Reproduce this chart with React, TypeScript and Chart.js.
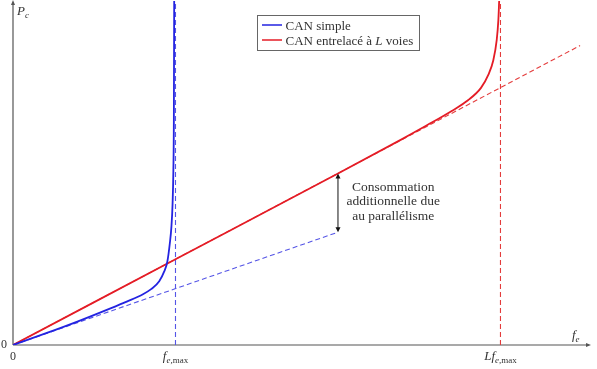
import React, { useEffect, useRef } from "react";
import { Chart, registerables } from "chart.js";
Chart.register(...registerables);

// ---- data (x in units of f_e,max, y in arbitrary power units) ----
const simpleX = [0, 0.2, 0.4, 0.6, 0.7, 0.8, 0.85, 0.9, 0.93, 0.95, 0.965, 0.975, 0.982, 0.987, 0.99, 0.992];
const simpleY = [0, 0.205, 0.42, 0.65, 0.77, 0.9, 0.99, 1.13, 1.3, 1.48, 1.8, 2.1, 2.5, 3.1, 4.0, 6.1];
const interX = [0, 1, 2, 2.4, 2.55, 2.7, 2.8, 2.88, 2.925, 2.956, 2.977, 2.987, 2.992];
const interY = [0, 1.52, 3.04, 3.66, 3.9, 4.15, 4.34, 4.56, 4.79, 5.05, 5.41, 5.76, 6.1];
const simpleLinX = [0, 2];
const simpleLinY = [0, 2];
const interLinX = [0, 3.49];
const interLinY = [0, 5.31];
const limitSimpleX = [1, 1];
const limitInterX = [3, 3];
const limitY = [0, 6.1];
const xTickValues = [0, 1, 3];
const xTickMain = ["0", "f", "Lf"];
const xTickSub = ["", "e,max", "e,max"];
const arrowX = 2;
const arrowFrom = 2;
const arrowTo = 3.04;
const noteLines = ["Consommation", "additionnelle due", "au parallélisme"];
const noteX = 2.34;
const noteY = 2.54;
const legendLabels = ["CAN simple", "CAN entrelacé à L voies"];

const X_MAX = 3.551;
const Y_MAX = 6.1;

const BLUE = "rgb(35,35,225)";
const RED = "rgb(228,28,38)";
const BLUE_D = "rgb(85,85,230)";
const RED_D = "rgb(228,60,60)";
const AXIS = "#555";
const TEXT = "#333";
const FONT = '"Liberation Serif", "Times New Roman", serif';

const pts = (xs: number[], ys: number[]) => xs.map((x, i) => ({ x, y: ys[i] }));

type Seg = { t: string; it?: boolean; sub?: boolean };

function segFont(s: Seg, size: number) {
  const sz = s.sub ? Math.round(size * 0.7) : size;
  return `${s.it ? "italic " : ""}${sz}px ${FONT}`;
}

function richWidth(ctx: CanvasRenderingContext2D, segs: Seg[], size: number) {
  let w = 0;
  for (const s of segs) {
    ctx.font = segFont(s, size);
    w += ctx.measureText(s.t).width;
  }
  return w;
}

function drawRich(ctx: CanvasRenderingContext2D, segs: Seg[], x: number, y: number, size: number, align: "left" | "center") {
  let cx = align === "center" ? x - richWidth(ctx, segs, size) / 2 : x;
  ctx.textAlign = "left";
  ctx.textBaseline = "alphabetic";
  for (const s of segs) {
    ctx.font = segFont(s, size);
    ctx.fillText(s.t, cx, y + (s.sub ? size * 0.25 : 0));
    cx += ctx.measureText(s.t).width;
  }
}

function subSegs(sub: string): Seg[] {
  if (!sub) return [];
  const [first, ...rest] = sub.split(",");
  const out: Seg[] = [{ t: first, it: true, sub: true }];
  if (rest.length) out.push({ t: "," + rest.join(","), sub: true });
  return out;
}

const overlay = {
  id: "overlay",
  beforeDatasetsDraw(chart: any) {
    const { ctx, scales } = chart;
    const xs = scales.x, ys = scales.y;
    const x0 = xs.getPixelForValue(0), y0 = ys.getPixelForValue(0);
    const xe = xs.getPixelForValue(X_MAX), ye = ys.getPixelForValue(Y_MAX);
    ctx.save();
    ctx.strokeStyle = AXIS;
    ctx.fillStyle = AXIS;
    ctx.lineWidth = 1.2;
    ctx.beginPath();
    ctx.moveTo(x0, y0);
    ctx.lineTo(xe - 2, y0);
    ctx.moveTo(x0, y0);
    ctx.lineTo(x0, ye + 2);
    ctx.stroke();
    ctx.beginPath();
    ctx.moveTo(xe + 1, y0);
    ctx.lineTo(xe - 4, y0 - 2);
    ctx.lineTo(xe - 4, y0 + 2);
    ctx.closePath();
    ctx.fill();
    ctx.beginPath();
    ctx.moveTo(x0, ye - 1);
    ctx.lineTo(x0 - 2, ye + 4);
    ctx.lineTo(x0 + 2, ye + 4);
    ctx.closePath();
    ctx.fill();
    ctx.restore();
  },
  afterDraw(chart: any) {
    const { ctx, scales } = chart;
    const xs = scales.x, ys = scales.y;
    const x0 = xs.getPixelForValue(0), y0 = ys.getPixelForValue(0);
    ctx.save();
    ctx.fillStyle = TEXT;
    // axis names
    drawRich(ctx, [{ t: "P", it: true }, { t: "c", it: true, sub: true }], x0 + 4, 15, 13, "left");
    drawRich(ctx, [{ t: "f", it: true }, { t: "e", it: true, sub: true }], xs.getPixelForValue(X_MAX) - 18, y0 - 6, 13, "left");
    // y zero
    ctx.font = `12px ${FONT}`;
    ctx.textAlign = "center";
    ctx.textBaseline = "middle";
    ctx.fillText("0", 4, y0);
    // x ticks
    xTickValues.forEach((v, i) => {
      const segs: Seg[] = [];
      if (xTickMain[i] === "0") segs.push({ t: "0" });
      else segs.push({ t: xTickMain[i], it: true });
      segs.push(...subSegs(xTickSub[i]));
      drawRich(ctx, segs, xs.getPixelForValue(v), y0 + 15, xTickMain[i] === "0" ? 12 : 13, "center");
    });
    // double arrow
    const ax = xs.getPixelForValue(arrowX);
    const a1 = ys.getPixelForValue(arrowFrom), a2 = ys.getPixelForValue(arrowTo);
    ctx.strokeStyle = "#111";
    ctx.fillStyle = "#111";
    ctx.lineWidth = 1;
    ctx.beginPath();
    ctx.moveTo(ax, a1 - 3);
    ctx.lineTo(ax, a2 + 3);
    ctx.stroke();
    ctx.beginPath();
    ctx.moveTo(ax, a1);
    ctx.lineTo(ax - 2.5, a1 - 5);
    ctx.lineTo(ax + 2.5, a1 - 5);
    ctx.closePath();
    ctx.fill();
    ctx.beginPath();
    ctx.moveTo(ax, a2);
    ctx.lineTo(ax - 2.5, a2 + 5);
    ctx.lineTo(ax + 2.5, a2 + 5);
    ctx.closePath();
    ctx.fill();
    // note
    ctx.fillStyle = TEXT;
    ctx.font = `13.5px ${FONT}`;
    ctx.textAlign = "center";
    ctx.textBaseline = "middle";
    const nx = xs.getPixelForValue(noteX), ny = ys.getPixelForValue(noteY);
    noteLines.forEach((l, i) => ctx.fillText(l, nx, ny + (i - 1) * 14.5));
    // legend
    const lx = 257, ly = 15, lw = 162, lh = 35;
    ctx.fillStyle = "#fff";
    ctx.fillRect(lx, ly, lw, lh);
    ctx.strokeStyle = "#666";
    ctx.lineWidth = 1;
    ctx.strokeRect(lx + 0.5, ly + 0.5, lw, lh);
    const cols = [BLUE, RED];
    legendLabels.forEach((lab, i) => {
      const yy = 25 + i * 15;
      ctx.strokeStyle = cols[i];
      ctx.lineWidth = 1.5;
      ctx.beginPath();
      ctx.moveTo(262, yy);
      ctx.lineTo(282, yy);
      ctx.stroke();
      ctx.fillStyle = TEXT;
      const parts = lab.split(/( L )/);
      const rich: Seg[] = [];
      parts.forEach((p) => {
        if (p === " L ") rich.push({ t: " " }, { t: "L", it: true }, { t: " " });
        else rich.push({ t: p });
      });
      drawRich(ctx, rich, 285.5, yy + 4.5, 13, "left");
    });
    ctx.restore();
  },
};

export default function App() {
  const ref = useRef<HTMLCanvasElement>(null);
  useEffect(() => {
    if (!ref.current) return;
    const line = (data: any[], color: string, width: number, dash: number[] = [], smooth = false) => ({
      data,
      borderColor: color,
      borderWidth: width,
      borderDash: dash,
      pointRadius: 0,
      fill: false,
      showLine: true,
      cubicInterpolationMode: smooth ? ("monotone" as const) : ("default" as const),
      tension: 0,
    });
    const chart = new Chart(ref.current, {
      type: "scatter",
      data: {
        datasets: [
          { label: legendLabels[0], ...line(pts(simpleX, simpleY), BLUE, 1.8, [], true) },
          { label: legendLabels[1], ...line(pts(interX, interY), RED, 1.8, [], true) },
          { label: "lin simple", ...line(pts(simpleLinX, simpleLinY), BLUE_D, 1.1, [5, 3]) },
          { label: "lin inter", ...line(pts(interLinX, interLinY), RED_D, 1.1, [5, 3]) },
          { label: "fmax", ...line(pts(limitSimpleX, limitY), BLUE_D, 1.1, [5, 3]) },
          { label: "Lfmax", ...line(pts(limitInterX, limitY), RED_D, 1.1, [5, 3]) },
        ],
      },
      options: {
        animation: false,
        responsive: false,
        layout: { padding: { left: 13, right: 7, top: 1, bottom: 24 } },
        scales: {
          x: { type: "linear", min: 0, max: X_MAX, display: false },
          y: { type: "linear", min: 0, max: Y_MAX, display: false },
        },
        plugins: { legend: { display: false }, tooltip: { enabled: false } },
      },
      plugins: [overlay],
    });
    return () => chart.destroy();
  }, []);
  return (
    <div style={{ position: "fixed", left: 0, top: 0, width: 597, height: 369, background: "#fff" }}>
      <canvas ref={ref} width={597} height={369} />
    </div>
  );
}
